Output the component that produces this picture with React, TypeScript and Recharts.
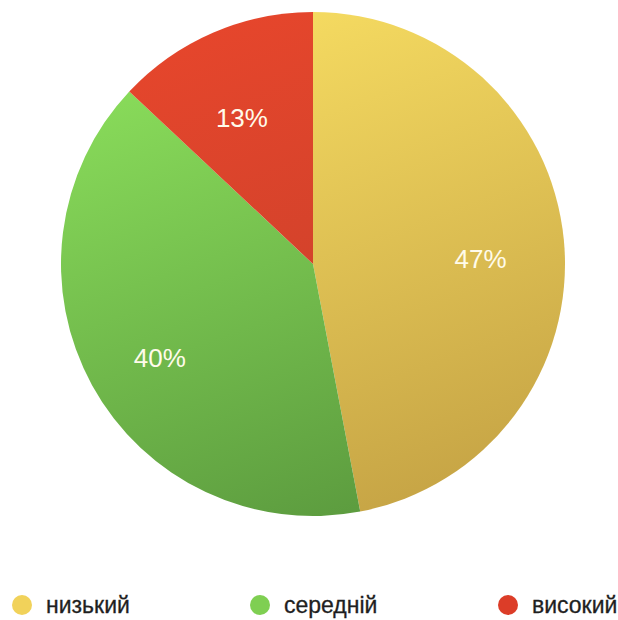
import { PieChart, Pie, Cell, Legend } from 'recharts';

// Share of students by level
const levels = ['низький', 'середній', 'високий'];
const shares = [47, 40, 13];
const colors = ['#f1d25a', '#7fcf52', '#dc3d28'];
const gradients = [
  ['#f7dd62', '#c6a445'],
  ['#8ce05c', '#5b9a3e'],
  ['#e6462c', '#c23f2a'],
];
const legendLeft = [12, 250, 498];

const data = levels.map((name, i) => ({ name, value: shares[i] }));

const RAD = Math.PI / 180;

const renderLabel = (props: any) => {
  const { cx, cy, midAngle, outerRadius, value } = props;
  const r = outerRadius * 0.68;
  const x = cx + r * Math.cos(-midAngle * RAD);
  const y = cy + r * Math.sin(-midAngle * RAD);
  return (
    <text
      x={x - 3}
      y={y + 11}
      fill="#fffbea"
      textAnchor="middle"
      dominantBaseline="central"
      style={{ fontFamily: '"Liberation Sans", Arial, sans-serif', fontSize: 26 }}
    >
      {`${value}%`}
    </text>
  );
};

const renderLegend = () => (
  <div style={{ position: 'relative', height: 26, width: 618 }}>
    {levels.map((name, i) => (
      <div
        key={name}
        style={{
          position: 'absolute',
          left: legendLeft[i],
          top: 0,
          height: 26,
          display: 'flex',
          alignItems: 'center',
          fontFamily: '"Liberation Sans", Arial, sans-serif',
          fontSize: 23,
          lineHeight: '26px',
          color: '#1f1f1f',
          WebkitTextStroke: '0.3px #1f1f1f',
        }}
      >
        <span
          style={{
            display: 'inline-block',
            flexShrink: 0,
            width: 20,
            height: 20,
            borderRadius: '50%',
            background: colors[i],
            marginRight: 14,
          }}
        />
        {name}
      </div>
    ))}
  </div>
);

export default function App() {
  return (
    <div style={{ position: 'absolute', left: 0, top: 0, width: 618, height: 620, background: '#fff' }}>
      <PieChart width={618} height={620} margin={{ top: 0, right: 0, bottom: 0, left: 0 }}>
        <defs>
          {gradients.map(([from, to], i) => (
            <linearGradient
              key={i}
              id={`grad${i}`}
              gradientUnits="userSpaceOnUse"
              x1={220}
              y1={12}
              x2={400}
              y2={516}
            >
              <stop offset="0%" stopColor={from} />
              <stop offset="100%" stopColor={to} />
            </linearGradient>
          ))}
        </defs>
        <Pie
          data={data}
          dataKey="value"
          nameKey="name"
          cx={313}
          cy={264}
          outerRadius={252}
          startAngle={90}
          endAngle={-270}
          stroke="none"
          label={renderLabel}
          labelLine={false}
          isAnimationActive={false}
        >
          {data.map((d, i) => (
            <Cell key={d.name} fill={`url(#grad${i})`} />
          ))}
        </Pie>
        <Legend
          content={renderLegend}
          wrapperStyle={{ position: 'absolute', left: 0, top: 592, width: 618 }}
        />
      </PieChart>
    </div>
  );
}
